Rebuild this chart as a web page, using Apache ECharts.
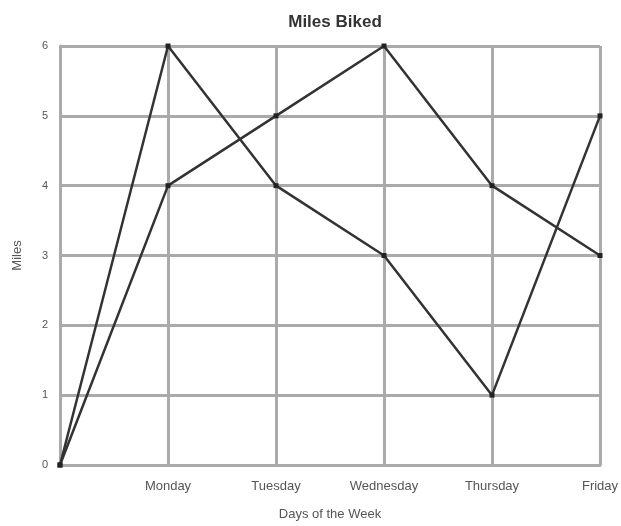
<!DOCTYPE html>
<html><head><meta charset="utf-8">
<script src="https://cdn.jsdelivr.net/npm/echarts@6/dist/echarts.min.js"></script>
<style>html,body{margin:0;padding:0;background:#fff}#c{width:621px;height:526px}</style>
</head><body><div id="c"></div>
<script>
const categories = ['', 'Monday', 'Tuesday', 'Wednesday', 'Thursday', 'Friday'];
const seriesA = [0, 6, 4, 3, 1, 5];
const seriesB = [0, 4, 5, 6, 4, 3];
const yTicks = [0, 1, 2, 3, 4, 5, 6];

const chart = echarts.init(document.getElementById('c'));
const lineStyle = {color: '#333', width: 2.5};
const font = 'Arial, Liberation Sans';
chart.setOption({
  animation: false,
  backgroundColor: '#fff',
  title: {text: 'Miles Biked', left: 330, textAlign: 'center', top: 9,
    textStyle: {fontFamily: font, fontSize: 17, fontWeight: 'bold', color: '#333'}},
  grid: {left: 60, right: 21, top: 46, bottom: 61, outerBoundsMode: 'none', containLabel: false},
  xAxis: {type: 'category', data: categories, boundaryGap: false,
    name: 'Days of the Week', nameLocation: 'middle', nameGap: 43,
    nameTextStyle: {fontFamily: font, fontSize: 13, color: '#555'},
    axisLine: {lineStyle: {color: '#aaa', width: 3}},
    axisTick: {show: false},
    axisLabel: {fontFamily: font, fontSize: 13, color: '#555', margin: 15},
    splitLine: {show: true, lineStyle: {color: '#aaa', width: 3}}},
  yAxis: {type: 'value', min: 0, max: 6, interval: 1,
    name: 'Miles', nameLocation: 'middle', nameGap: 36,
    nameTextStyle: {fontFamily: font, fontSize: 13, color: '#555'},
    axisLine: {show: true, lineStyle: {color: '#aaa', width: 3}},
    axisTick: {show: false},
    axisLabel: {fontFamily: font, fontSize: 11, color: '#555', margin: 12,
      formatter: v => yTicks.includes(v) ? String(v) : ''},
    splitLine: {show: true, lineStyle: {color: '#aaa', width: 3}}},
  series: [
    {type: 'line', data: seriesA, symbol: 'rect', symbolSize: 5, lineStyle: lineStyle,
      itemStyle: {color: '#222'}},
    {type: 'line', data: seriesB, symbol: 'rect', symbolSize: 5, lineStyle: lineStyle,
      itemStyle: {color: '#222'}}
  ]
});
</script></body></html>
